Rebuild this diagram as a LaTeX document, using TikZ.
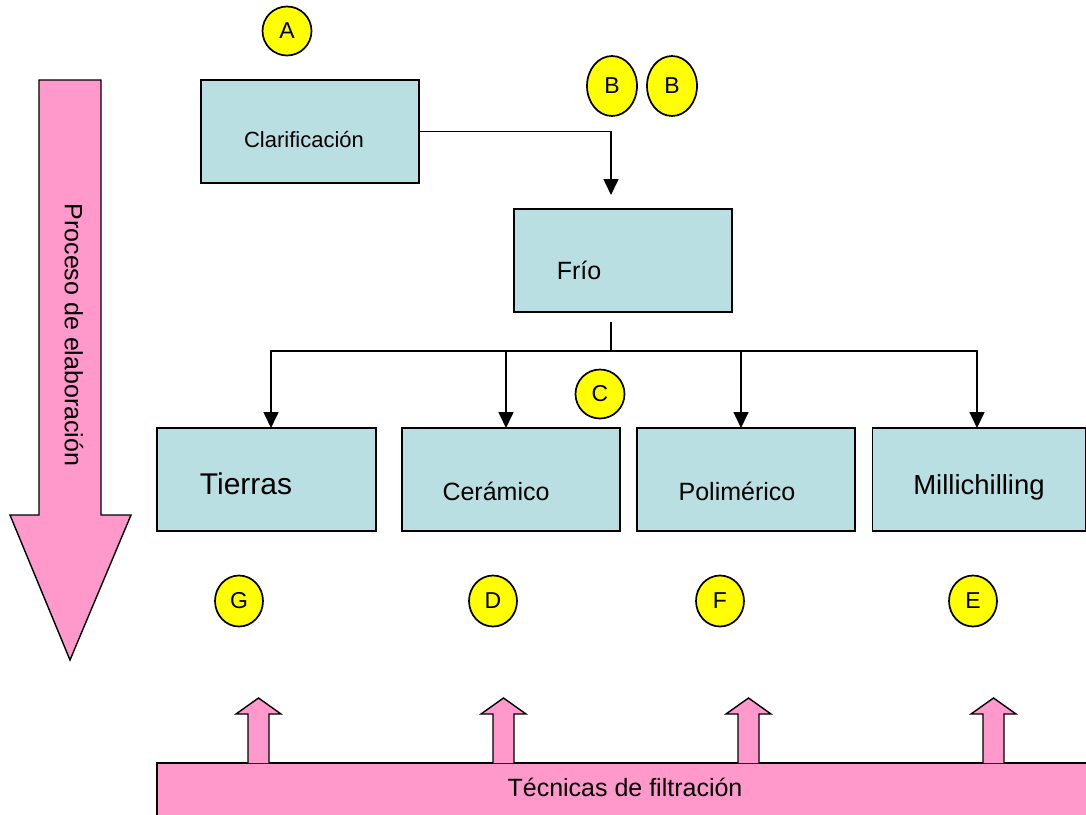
\documentclass[tikz,border=0pt]{standalone}
\usepackage{fontspec}
\setmainfont{Liberation Sans}
\usetikzlibrary{arrows.meta,shapes.geometric}
\definecolor{boxblue}{RGB}{185,223,227}
\definecolor{pinkk}{RGB}{255,153,204}
\definecolor{yel}{RGB}{255,255,0}
\tikzset{
  stepbox/.style={draw=black,line width=1.7pt,fill=boxblue,rectangle,inner sep=0pt},
  conn/.style={draw=black,line width=1.6pt,-{Triangle[width=15pt,length=16pt]}},
  plain/.style={draw=black,line width=1.6pt},
  badge/.style={draw=black,line width=1.7pt,fill=yel,ellipse,inner sep=0pt,font=\fontsize{23}{26}\selectfont},
  pinkshape/.style={draw=black,line width=1.4pt,fill=pinkk},
  lbl/.style={inner sep=0pt,text=black}
}
\begin{document}
\begin{tikzpicture}[x=1pt,y=-1pt]
\useasboundingbox (0,0) rectangle (1086,814);
\clip (0,0) rectangle (1086,814);

% boxes
\node[stepbox,minimum width=218pt,minimum height=103pt] (clar) at (310,131.5) {};
\node[stepbox,minimum width=218pt,minimum height=103pt] (frio) at (623,260.5) {};
\node[stepbox,minimum width=219pt,minimum height=103pt] (tierras) at (266.5,479.5) {};
\node[stepbox,minimum width=218pt,minimum height=103pt] (ceram) at (511,479.5) {};
\node[stepbox,minimum width=218pt,minimum height=103pt] (polim) at (746,479.5) {};
\node[stepbox,minimum width=213pt,minimum height=103pt] (milli) at (979,479.5) {};

% box texts
\node[lbl,font=\fontsize{22}{26}\selectfont] (tclar) at (304,140) {Clarificación};
\node[lbl,font=\fontsize{25}{30}\selectfont] (tfrio) at (579,270) {Frío};
\node[lbl,font=\fontsize{30}{36}\selectfont] (ttier) at (246,484) {Tierras};
\node[lbl,font=\fontsize{25}{30}\selectfont] (tceram) at (496,491) {Cerámico};
\node[lbl,font=\fontsize{25}{30}\selectfont] (tpolim) at (737,491) {Polimérico};
\node[lbl,font=\fontsize{27.5}{33}\selectfont] (tmilli) at (979,487) {Millichilling};

% connectors
\coordinate (bt) at (611,195);
\draw[conn] (clar.east) -| (bt);
\coordinate (fs) at (611,322);
\coordinate (hub) at (611,351);
\coordinate (at1) at (271,428);
\coordinate (at2) at (506,428);
\coordinate (at3) at (741,428);
\coordinate (at4) at (977,428);
\draw[plain] (fs) -- (hub);
\draw[conn] (hub) -| (at1);
\draw[conn] (hub) -| (at2);
\draw[conn] (hub) -| (at3);
\draw[conn] (hub) -| (at4);

% badges
\node[badge,minimum width=49pt,minimum height=49pt] (ba) at (287,31) {A};
\node[badge,minimum width=50pt,minimum height=60pt] (bb1) at (612,86) {B};
\node[badge,minimum width=50pt,minimum height=60pt] (bb2) at (672,86) {B};
\node[badge,minimum width=49pt,minimum height=49pt] (bc) at (600,394) {C};
\node[badge,minimum width=48pt,minimum height=51pt] (bg) at (239,601) {G};
\node[badge,minimum width=48pt,minimum height=51pt] (bd) at (493,601) {D};
\node[badge,minimum width=48pt,minimum height=51pt] (bf) at (720,601) {F};
\node[badge,minimum width=48pt,minimum height=51pt] (be) at (973,601) {E};

% big left arrow
\draw[pinkshape] (39,80) -- (101,80) -- (101,515) -- (131,515) -- (70,660) -- (10,515) -- (39,515) -- cycle;
\node[lbl,rotate=-90,font=\fontsize{25}{30}\selectfont] (tproc) at (74,335) {Proceso de elaboración};

% bottom bar
\draw[pinkshape] (157,763) rectangle (1095,825);
\node[lbl,font=\fontsize{25}{30}\selectfont] (ttec) at (625,787) {Técnicas de filtración};

% small up arrows
\foreach \cx in {258.5,503.5,748.5,993.5}{
  \draw[pinkshape] (\cx-10.5,763) -- (\cx-10.5,714) -- (\cx-22.5,714) -- (\cx,698) -- (\cx+22.5,714) -- (\cx+10.5,714) -- (\cx+10.5,763);
}
\end{tikzpicture}
\end{document}
